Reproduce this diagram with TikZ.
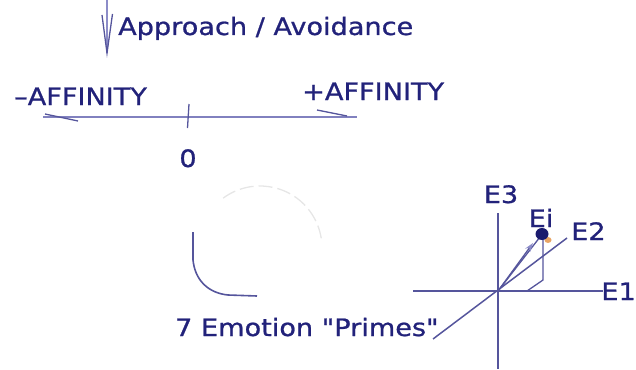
\documentclass[tikz,border=0pt]{standalone}
\usepackage{fontspec}
\newfontfamily\lblfont{DejaVu Sans}[FakeStretch=1.13, FakeBold=0.9]
\usetikzlibrary{arrows.meta}
\definecolor{txt}{HTML}{22227A}
\definecolor{ln}{HTML}{55559C}
\definecolor{lnlight}{HTML}{8C8CC8}
\definecolor{faint}{HTML}{E6E6E6}
\definecolor{dot}{HTML}{1A1A6E}
\definecolor{orng}{HTML}{E8A464}
\tikzset{
  lbl/.style={inner sep=0pt, text=txt, font=\lblfont\fontsize{24}{28}\selectfont},
  axisline/.style={draw=ln, line width=1.5pt},
  thinline/.style={draw=ln, line width=1.3pt},
}
\begin{document}
\begin{tikzpicture}[x=1pt,y=-1pt]
\useasboundingbox (0,0) rectangle (636,369);
% top arrow
\coordinate (atop) at (107,0);
\coordinate (atip) at (107,53);
\coordinate (avl) at (102,15);
\coordinate (avr) at (112.5,14);
\draw[draw=lnlight, line width=1.3pt] (atop) -- (atip);
\draw[thinline] (avl) -- (atip) -- (avr);
\node[lbl, anchor=base west] (appr) at (118,35) {Approach / Avoidance};
% affinity axis
\node[lbl, anchor=base west] (neg) at (14,105) {–AFFINITY};
\node[lbl, anchor=base west] (pos) at (302,100) {+AFFINITY};
\coordinate (hl) at (43,117);
\coordinate (hr) at (357,117);
\draw[draw=lnlight!80!ln, line width=1.6pt] (hl) -- (hr);
\coordinate (s1a) at (45,114); \coordinate (s1b) at (78,121);
\coordinate (s2a) at (317,110); \coordinate (s2b) at (347,116);
\draw[thinline] (s1a) -- (s1b);
\draw[thinline] (s2a) -- (s2b);
\coordinate (tka) at (189,104); \coordinate (tkb) at (187.5,128);
\draw[thinline] (tka) -- (tkb);
\node[lbl, anchor=base] (zero) at (188,167) {0};
% circle
\coordinate (cc) at (260,248);
\draw[faint, line width=1.3pt, dash pattern=on 14pt off 5pt] (cc) ++(233.5:62) arc[start angle=233.5, end angle=351, radius=62];
\coordinate (c1) at (193,232);
\coordinate (c2) at (193,260);
\coordinate (c3) at (228,295);
\coordinate (c4) at (257,296);
\draw[thinline, line width=1.6pt] (c1) -- (c2) .. controls (195,280) and (208,293) .. (c3) -- (c4);
\node[lbl, anchor=base west] (primes) at (175,336) {7 Emotion "Primes"};
% 3D axes
\coordinate (o) at (498,291);
\coordinate (vt) at (498,213); \coordinate (vb) at (498,369);
\coordinate (hl2) at (413,291); \coordinate (hr2) at (603,291);
\coordinate (dl) at (433,339); \coordinate (dr) at (567,238);
\draw[axisline] (vt) -- (vb);
\draw[axisline] (hl2) -- (hr2);
\draw[axisline] (dl) -- (dr);
\node[lbl, anchor=base east] (e1) at (636,300) {E1};
\node[lbl, anchor=base west] (e2) at (571,240) {E2};
\node[lbl, anchor=base] (e3) at (501,203) {E3};
\node[lbl, anchor=base] (ei) at (541,227) {Ei};
% vector to Ei
\coordinate (vtip) at (533,243);
\coordinate (pv) at (540,237);
\draw[thinline] (o) -- (pv);
\draw[thinline, -{Stealth[open, length=9pt, width=6pt, fill=white, color=lnlight]}] (o) -- (vtip);
\coordinate (p1) at (543,239);
\coordinate (p2) at (543,280);
\coordinate (p3) at (527,291);
\draw[thinline] (p1) -- (p2) -- (p3);
\fill[orng] (548,240) ellipse[x radius=3.5, y radius=3];
\fill[dot] (542,234) ellipse[x radius=6.5, y radius=6];
\end{tikzpicture}
\end{document}
